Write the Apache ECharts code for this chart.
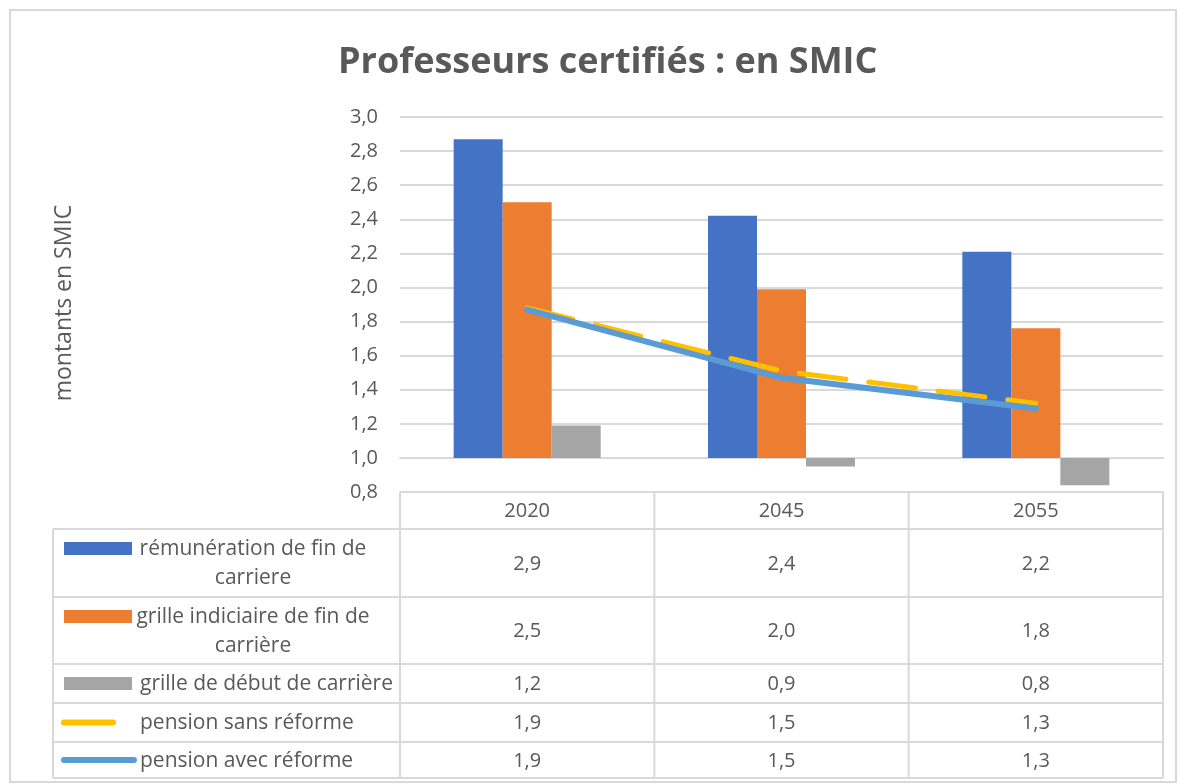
<!DOCTYPE html>
<html>
<head>
<meta charset="utf-8">
<script src="https://cdn.jsdelivr.net/npm/echarts@6/dist/echarts.min.js"></script>
<style>
  html, body { margin: 0; padding: 0; background: #fff; }
  #chart { width: 1178px; height: 784px; }
</style>
</head>
<body>
<div id="chart"></div>
<script>
// données (en SMIC)
var categories = ['2020', '2045', '2055'];
var remuneration = [2.87, 2.42, 2.21];
var grilleFin = [2.50, 1.99, 1.76];
var grilleDebut = [1.19, 0.95, 0.84];
var pensionSans = [1.88, 1.51, 1.32];
var pensionAvec = [1.87, 1.47, 1.29];
var seriesNames = [
    'rémunération de fin de\ncarriere',
    'grille indiciaire de fin de\ncarrière',
    'grille de début de carrière',
    'pension sans réforme',
    'pension avec réforme'
];
// l'axe horizontal croise à 1,0 : les barres partent de là
var BASE = 1.0;
var yMin = 0.8, yMax = 3.0, yStep = 0.2;

var TXT = '#595959';
var LINE = '#d9d9d9';
var FONT = '"Open Sans"';

function shift(arr) {
    return arr.map(function (v) { return +(v - BASE).toFixed(3); });
}
function fr(v) {
    return v.toFixed(1).replace('.', ',');
}

var myChart = echarts.init(document.getElementById('chart'));

// tableau de données sous le graphique
var gridLeft = 400, gridRight = 1163, tableTop = 492, headBottom = 529, tableLeft = 53;
var rowEdges = [529, 597, 664, 703, 742, 778];
var colW = (gridRight - gridLeft) / categories.length;
var tableData = [remuneration, grilleFin, grilleDebut, pensionSans, pensionAvec];
var keyColors = ['#4472c4', '#ed7d31', '#a5a5a5', '#ffc000', '#5b9bd5'];

var graphic = [];
// cadre extérieur
graphic.push({ type: 'rect', shape: { x: 10, y: 10, width: 1166, height: 772 },
    style: { fill: null, stroke: LINE, lineWidth: 2 } });
// titre de l'axe vertical
graphic.push({ type: 'text', x: 64, y: 303, rotation: Math.PI / 2,
    style: { text: 'montants en SMIC', fill: TXT, font: '23px ' + FONT, align: 'center', verticalAlign: 'middle' } });

function hline(x1, x2, y) {
    graphic.push({ type: 'line', shape: { x1: x1, y1: y, x2: x2, y2: y }, style: { stroke: LINE, lineWidth: 2 } });
}
function vline(x, y1, y2) {
    graphic.push({ type: 'line', shape: { x1: x, y1: y1, x2: x, y2: y2 }, style: { stroke: LINE, lineWidth: 2 } });
}
hline(gridLeft, gridRight, tableTop);
for (var r = 0; r < rowEdges.length; r++) hline(tableLeft, gridRight, rowEdges[r]);
vline(tableLeft, headBottom, rowEdges[rowEdges.length - 1]);
for (var c = 0; c <= categories.length; c++) vline(gridLeft + c * colW, tableTop, rowEdges[rowEdges.length - 1]);

// en-têtes des années
for (var c = 0; c < categories.length; c++) {
    graphic.push({ type: 'text', x: gridLeft + (c + 0.5) * colW, y: (tableTop + headBottom) / 2 + 1,
        style: { text: categories[c], fill: TXT, font: '20px ' + FONT, align: 'center', verticalAlign: 'middle' } });
}
// lignes du tableau
for (var r = 0; r < tableData.length; r++) {
    var rowTop = rowEdges[r], rowBot = rowEdges[r + 1], rowMid = (rowTop + rowBot) / 2;
    var twoLines = seriesNames[r].indexOf('\n') >= 0;
    // clé de légende
    if (r < 3) {
        var ky = twoLines ? rowTop + 13 : rowMid - 6.5;
        graphic.push({ type: 'rect', shape: { x: 64, y: ky, width: 68, height: 13 }, style: { fill: keyColors[r] } });
    } else {
        var kw = r === 3 ? 51 : 72;
        graphic.push({ type: 'line', shape: { x1: 64, y1: rowMid, x2: 62 + kw, y2: rowMid },
            style: { stroke: keyColors[r], lineWidth: 6, lineCap: 'round' } });
    }
    graphic.push({ type: 'text', x: twoLines ? 253 : 140, y: rowMid + 1,
        style: { text: seriesNames[r], fill: TXT, font: '21px ' + FONT, lineHeight: 29,
            align: twoLines ? 'center' : 'left', verticalAlign: 'middle' } });
    for (var c = 0; c < categories.length; c++) {
        graphic.push({ type: 'text', x: gridLeft + (c + 0.5) * colW, y: rowMid + 1,
            style: { text: fr(tableData[r][c]), fill: TXT, font: '20px ' + FONT, align: 'center', verticalAlign: 'middle' } });
    }
}

var option = {
    animation: false,
    backgroundColor: '#fff',
    title: {
        text: 'Professeurs certifiés : en SMIC',
        left: 333,
        top: 40,
        textStyle: { color: TXT, fontSize: 36, fontWeight: 'bold', fontFamily: FONT }
    },
    grid: { left: gridLeft, right: 1178 - gridRight, top: 117, bottom: 784 - tableTop, containLabel: false },
    xAxis: {
        type: 'category',
        data: categories,
        axisTick: { show: false },
        axisLabel: { show: false },
        axisLine: { show: true, onZero: true, lineStyle: { color: LINE, width: 2 } }
    },
    yAxis: {
        type: 'value',
        min: +(yMin - BASE).toFixed(3),
        max: +(yMax - BASE).toFixed(3),
        interval: yStep,
        axisLine: { show: false },
        axisTick: { show: false },
        axisLabel: {
            color: TXT, fontSize: 20, fontFamily: FONT, margin: 22,
            formatter: function (v) { return fr(v + BASE); }
        },
        splitLine: { lineStyle: { color: LINE, width: 2 } }
    },
    series: [
        { name: seriesNames[0], type: 'bar', data: shift(remuneration), barWidth: 49, barGap: '0%',
          itemStyle: { color: '#4472c4' } },
        { name: seriesNames[1], type: 'bar', data: shift(grilleFin), barWidth: 49, barGap: '0%',
          itemStyle: { color: '#ed7d31' } },
        { name: seriesNames[2], type: 'bar', data: shift(grilleDebut), barWidth: 49, barGap: '0%',
          itemStyle: { color: '#a5a5a5' } },
        { name: seriesNames[3], type: 'line', data: shift(pensionSans), showSymbol: false, symbol: 'none',
          lineStyle: { color: '#ffc000', width: 5, type: [47, 23], cap: 'round' } },
        { name: seriesNames[4], type: 'line', data: shift(pensionAvec), showSymbol: false, symbol: 'none',
          lineStyle: { color: '#5b9bd5', width: 6, cap: 'round' } }
    ],
    graphic: graphic
};
myChart.setOption(option);
</script>
</body>
</html>
